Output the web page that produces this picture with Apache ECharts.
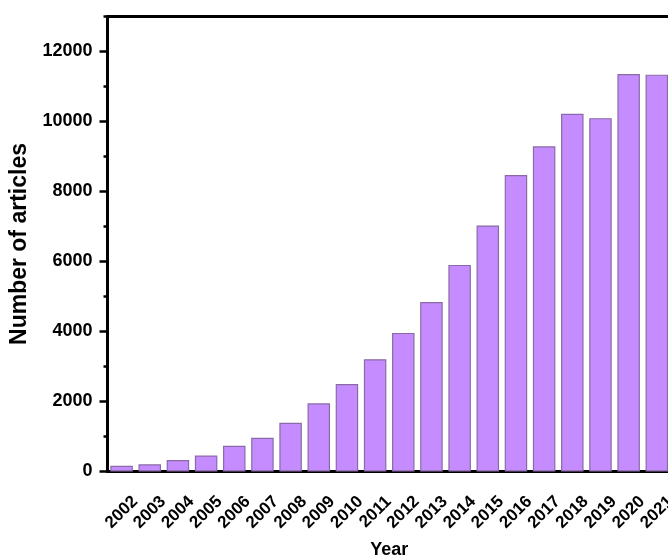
<!DOCTYPE html>
<html>
<head>
<meta charset="utf-8">
<script src="https://cdn.jsdelivr.net/npm/echarts@6/dist/echarts.min.js"></script>
<style>html,body{margin:0;padding:0;background:#fff;}#c{width:668px;height:556px;}</style>
</head>
<body>
<div id="c"></div>
<script>
var years = ['2002','2003','2004','2005','2006','2007','2008','2009','2010','2011','2012','2013','2014','2015','2016','2017','2018','2019','2020','2021'];
var articles = [166, 206, 330, 458, 736, 966, 1395, 1948, 2501, 3209, 3960, 4842, 5903, 7028, 8473, 9292, 10220, 10095, 11355, 11338];
var yTicks = [0, 2000, 4000, 6000, 8000, 10000, 12000];

var FONT = '"Liberation Sans", Arial, sans-serif';
var chart = echarts.init(document.getElementById('c'), null, {renderer: 'canvas'});
chart.setOption({
  animation: false,
  backgroundColor: '#ffffff',
  grid: {left: 107.5, top: 16.5, width: 563.4, height: 455, containLabel: false, outerBoundsMode: 'none'},
  xAxis: [{
    type: 'category',
    data: years,
    position: 'bottom',
    name: 'Year',
    nameLocation: 'middle',
    nameGap: 70,
    nameMoveOverlap: false,
    nameTextStyle: {fontFamily: FONT, fontWeight: 'bold', fontSize: 18, color: '#000'},
    axisLine: {onZero: false, lineStyle: {color: '#000', width: 3}},
    axisTick: {alignWithLabel: true, length: 8, lineStyle: {color: '#000', width: 2.5}},
    axisLabel: {
      rotate: 45, interval: 0, margin: 14, hideOverlap: false,
      fontFamily: FONT, fontWeight: 'bold', fontSize: 17, color: '#000',
      lineHeight: 38,
      formatter: function (v) { return '\n' + v; }
    }
  }, {
    type: 'category',
    data: years,
    position: 'top',
    axisLine: {show: true, onZero: false, lineStyle: {color: '#000', width: 3}},
    axisTick: {show: false},
    axisLabel: {show: false}
  }],
  yAxis: [{
    type: 'value',
    min: 0, max: 13000, interval: 2000,
    axisLine: {show: true, onZero: false, lineStyle: {color: '#000', width: 3}},
    axisTick: {show: true, length: 8, lineStyle: {color: '#000', width: 2.5}},
    splitLine: {show: false},
    axisLabel: {
      margin: 15, fontFamily: FONT, fontWeight: 'bold', fontSize: 18, color: '#000',
      showMaxLabel: false,
      formatter: function (v) { return yTicks.indexOf(v) >= 0 ? String(v) : ''; }
    },
    name: 'Number of articles',
    nameLocation: 'middle',
    nameGap: 76,
    nameMoveOverlap: false,
    nameTextStyle: {fontFamily: FONT, fontWeight: 'bold', fontSize: 23, color: '#000'}
  }, {
    type: 'value',
    position: 'left',
    min: 0, max: 13000, interval: 1000,
    axisLine: {show: false},
    axisTick: {show: true, length: 4, lineStyle: {color: '#000', width: 2.5}},
    axisLabel: {show: false},
    splitLine: {show: false}
  }],
  series: [{
    type: 'bar',
    data: articles,
    barWidth: 22.5,
    itemStyle: {color: '#c58cff', borderColor: '#8a6aa6', borderWidth: 1.2}
  }]
});
</script>
</body>
</html>
